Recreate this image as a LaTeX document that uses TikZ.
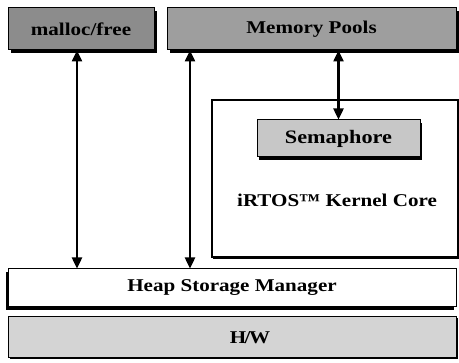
\documentclass[tikz,border=0pt]{standalone}
\usepackage{fontspec}
\setmainfont[FakeStretch=1.17]{Liberation Serif}
\usepackage{tikz}
\usetikzlibrary{positioning,arrows.meta,shadows}

\begin{document}
\begin{tikzpicture}[
    x=1pt, y=-1pt,
    % Define styles for the different boxes
    topbox/.style={rectangle, draw, line width=1pt, fill=black!45, minimum height=42pt, inner sep=0pt,
        font=\fontsize{18}{20}\selectfont\bfseries,
        general shadow={fill=black, shadow xshift=3pt, shadow yshift=-3pt}},
    corebox/.style={rectangle, draw, line width=1.3pt, fill=white, inner sep=0pt,
        general shadow={fill=black, shadow xshift=1pt, shadow yshift=-2pt}},
    sembox/.style={rectangle, draw, line width=1pt, fill=black!22, minimum height=37pt, inner sep=0pt,
        font=\fontsize{19}{21}\selectfont\bfseries,
        general shadow={fill=black, shadow xshift=2pt, shadow yshift=-3pt}},
    layerbox/.style={rectangle, draw, line width=1pt, fill=white, minimum width=448pt, inner sep=0pt,
        font=\fontsize{18}{20}\selectfont\bfseries},
    core_label/.style={font=\fontsize{18}{20}\selectfont\bfseries},
    dblarrow/.style={{Triangle[length=11pt,width=10pt]}-{Triangle[length=11pt,width=10pt]}, line width=2.4pt}
]
    \useasboundingbox (0,0) rectangle (459,363);

    % Top layer
    \node[topbox, minimum width=146pt] (malloc) at (81,29) {malloc/free};
    \node[topbox, minimum width=289pt, fill=black!38] (pools) at (311.5,29) {Memory Pools};

    % Kernel core with semaphore
    \node[corebox, minimum width=246pt, minimum height=157pt] (kernel) at (335,178.5) {};
    \node[sembox, minimum width=163pt] (sem) at (338.5,138.5) {Semaphore};
    \node[core_label] (coretext) at (337,200) {iRTOS™ Kernel Core};

    % Bottom layers
    \node[layerbox, minimum height=38pt,
        general shadow={fill=black, shadow xshift=-2pt, shadow yshift=-3pt}] (heap) at (232,288) {Heap Storage Manager};
    \node[layerbox, minimum height=41pt, fill=black!17,
        general shadow={fill=black, shadow xshift=1.5pt, shadow yshift=-1.5pt}] (hw) at (232,337.5) {\hspace*{36pt}H\kern-1.5pt/\kern-1.5pt W};

    % Connections
    \coordinate (a1) at (77,0);
    \coordinate (a2) at (190,0);
    \draw[dblarrow] (malloc.south -| a1) -- (heap.north -| a1);
    \draw[dblarrow] (pools.south -| a2) -- (heap.north -| a2);
    \draw[dblarrow] (pools.south -| sem.north) -- (sem.north);

\end{tikzpicture}
\end{document}
